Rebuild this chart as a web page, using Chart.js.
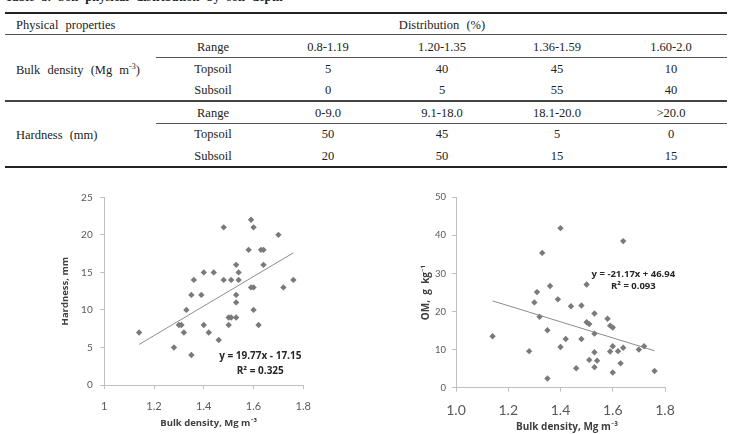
<!DOCTYPE html>
<html><head><meta charset="utf-8">
<script src="https://cdn.jsdelivr.net/npm/chart.js@4.4.0/dist/chart.umd.min.js"></script>
<style>
html,body{margin:0;padding:0;background:#fff;width:732px;height:434px;overflow:hidden;position:relative}
.t{position:absolute;font-family:'Liberation Serif','Times New Roman',serif;font-size:12.5px;color:#222;height:16px;line-height:16px;white-space:nowrap;word-spacing:4px}
.c{transform:translateX(-50%)}
.hl{position:absolute;background:#333;right:5px}
sup{font-size:8px;line-height:0;vertical-align:5px;word-spacing:0}
#w1{position:absolute;left:0;top:180px;width:366px;height:254px}
#w2{position:absolute;left:370px;top:180px;width:362px;height:254px}
</style></head><body>
<div class="t" style="left:5px;top:-11px;font-weight:bold;">Table 3. Soil physical distribution by soil depth</div>
<div class="hl" style="left:5px;top:12px;height:2px;background:#222"></div>
<div class="t" style="left:16px;top:17px">Physical properties</div>
<div class="t c" style="left:442px;top:17px">Distribution (%)</div>
<div class="hl" style="left:5px;top:34px;height:1px;background:#555"></div>

<div class="t c" style="left:213px;top:39px">Range</div>
<div class="t c" style="left:328px;top:39px">0.8-1.19</div>
<div class="t c" style="left:442px;top:39px">1.20-1.35</div>
<div class="t c" style="left:557px;top:39px">1.36-1.59</div>
<div class="t c" style="left:671px;top:39px">1.60-2.0</div>
<div class="hl" style="left:156px;top:57px;height:1px;background:#555"></div>
<div class="t" style="left:16px;top:62px">Bulk density (Mg m<sup>-3</sup>)</div>
<div class="t c" style="left:213px;top:61px">Topsoil</div>
<div class="t c" style="left:328px;top:61px">5</div>
<div class="t c" style="left:442px;top:61px">40</div>
<div class="t c" style="left:557px;top:61px">45</div>
<div class="t c" style="left:671px;top:61px">10</div>
<div class="t c" style="left:213px;top:82px">Subsoil</div>
<div class="t c" style="left:328px;top:82px">0</div>
<div class="t c" style="left:442px;top:82px">5</div>
<div class="t c" style="left:557px;top:82px">55</div>
<div class="t c" style="left:671px;top:82px">40</div>
<div class="hl" style="left:5px;top:100px;height:2px;background:#444"></div>

<div class="t c" style="left:213px;top:105px">Range</div>
<div class="t c" style="left:328px;top:105px">0-9.0</div>
<div class="t c" style="left:442px;top:105px">9.1-18.0</div>
<div class="t c" style="left:557px;top:105px">18.1-20.0</div>
<div class="t c" style="left:671px;top:105px">&gt;20.0</div>
<div class="hl" style="left:156px;top:123px;height:1px;background:#555"></div>
<div class="t" style="left:16px;top:127px">Hardness (mm)</div>
<div class="t c" style="left:213px;top:126px">Topsoil</div>
<div class="t c" style="left:328px;top:126px">50</div>
<div class="t c" style="left:442px;top:126px">45</div>
<div class="t c" style="left:557px;top:126px">5</div>
<div class="t c" style="left:671px;top:126px">0</div>
<div class="t c" style="left:213px;top:148px">Subsoil</div>
<div class="t c" style="left:328px;top:148px">20</div>
<div class="t c" style="left:442px;top:148px">50</div>
<div class="t c" style="left:557px;top:148px">15</div>
<div class="t c" style="left:671px;top:148px">15</div>
<div class="hl" style="left:5px;top:166px;height:2px;background:#222"></div>

<div id="w1"><canvas id="c1" width="366" height="254"></canvas></div>
<div id="w2"><canvas id="c2" width="362" height="254"></canvas></div>
<script>
// Left plot: bulk density vs hardness
const bulkDensityA = [1.14,1.28,1.30,1.31,1.32,1.33,1.35,1.35,1.36,1.39,1.40,1.40,1.42,1.44,1.46,1.48,1.48,1.50,1.50,1.51,1.51,1.53,1.53,1.53,1.53,1.54,1.54,1.58,1.59,1.59,1.60,1.60,1.60,1.62,1.63,1.64,1.64,1.70,1.72,1.76];
const hardness = [7,5,8,8,7,10,12,4,14,12,15,8,7,15,6,21,14,8,9,9,14,16,12,11,9,15,14,18,22,13,13,21,10,8,18,18,16,20,13,14];
const trendAX = [1.14,1.76];
const trendAY = [5.4,17.6];
const eqA = ['y = 19.77x - 17.15','R\u00B2 = 0.325'];

// Right plot: bulk density vs organic matter
const bulkDensityB = [1.14,1.28,1.30,1.31,1.32,1.33,1.35,1.35,1.36,1.39,1.40,1.40,1.42,1.44,1.46,1.48,1.48,1.50,1.50,1.51,1.51,1.53,1.53,1.53,1.53,1.54,1.58,1.59,1.59,1.60,1.60,1.60,1.62,1.63,1.64,1.64,1.70,1.72,1.76];
const organicMatter = [13.5,9.6,22.4,25.1,18.6,35.4,15.1,2.4,26.7,23.2,41.9,10.7,12.8,21.4,5.1,21.6,12.8,27.1,17.2,16.7,7.3,19.5,14.2,9.3,5.4,7.1,18.1,16.3,9.5,15.8,10.9,4.0,9.6,6.4,10.5,38.5,10.0,10.9,4.4];
const trendBX = [1.14,1.76];
const trendBY = [22.8,9.7];
const eqB = ['y = -21.17x + 46.94','R\u00B2 = 0.093'];

const pts = (xs, ys) => xs.map((x, i) => ({x: x, y: ys[i]}));
const BOLD = "'Open Sans', Lato, sans-serif";

const eqPlugin = {
  id: 'eq',
  afterDatasetsDraw(chart, args, o) {
    const ctx = chart.ctx, sx = chart.scales.x, sy = chart.scales.y;
    ctx.save();
    ctx.font = 'bold ' + o.size + 'px ' + BOLD;
    ctx.fillStyle = '#262626';
    ctx.textAlign = 'center';
    ctx.textBaseline = 'middle';
    o.items.forEach(it => ctx.fillText(it.text, sx.getPixelForValue(it.x), sy.getPixelForValue(it.y)));
    ctx.restore();
  }
};

function build(id, c) {
  return new Chart(document.getElementById(id), {
    type: 'scatter',
    data: {
      datasets: [
        {data: pts(c.tx, c.ty), showLine: true, borderColor: '#8c8c8c', borderWidth: 1, pointRadius: 0, order: 2},
        {data: pts(c.xs, c.ys), pointStyle: 'rectRot', pointRadius: 3.2, backgroundColor: '#7a7a7a', borderColor: '#7a7a7a', borderWidth: 0, order: 1}
      ]
    },
    options: {
      responsive: false, animation: false, devicePixelRatio: 1,
      layout: {padding: c.pad},
      plugins: {legend: {display: false}, tooltip: {enabled: false}, eq: {size: c.eqSize, items: c.eqItems}},
      scales: {
        x: {
          type: 'linear', min: 1, max: 1.8,
          afterFit: s => { s.height = c.xh; },
          ticks: {stepSize: 0.2, color: '#595959', padding: c.xpad, font: {family: 'Lato', size: c.xFont}, callback: c.xcb},
          grid: {drawOnChartArea: false, color: '#bfbfbf', tickLength: 4},
          border: {color: '#bfbfbf'},
          title: {display: true, text: c.xTitle, color: '#404040', padding: 0, font: {family: BOLD, size: c.tFont, weight: 'bold'}}
        },
        y: {
          type: 'linear', min: 0, max: c.ymax,
          afterFit: s => { s.width = c.yw; },
          ticks: {stepSize: c.ystep, color: '#595959', padding: c.ypad, font: {family: 'Lato', size: c.yFont}},
          grid: {drawOnChartArea: false, color: '#bfbfbf', tickLength: 4},
          border: {color: '#bfbfbf'},
          title: {display: true, text: c.yTitle, color: '#404040', padding: 0, font: {family: BOLD, size: c.tFont, weight: 'bold'}}
        }
      }
    },
    plugins: [eqPlugin]
  });
}

build('c1', {
  xs: bulkDensityA, ys: hardness, tx: trendAX, ty: trendAY,
  pad: {left: 60, top: 17.3, right: 62.7, bottom: 5.4},
  xh: 43.6, yw: 44.3, xpad: 11, ypad: 7.6, xFont: 11, yFont: 10, tFont: 9.5,
  ymax: 25, ystep: 5, xcb: v => String(Math.round(v * 10) / 10),
  xTitle: '    Bulk density, Mg m\u207B\u00B3', yTitle: 'Hardness, mm',
  eqSize: 10,
  eqItems: [{text: eqA[0], x: 1.627, y: 3.8}, {text: eqA[1], x: 1.627, y: 1.87}]
});

build('c2', {
  xs: bulkDensityB, ys: organicMatter, tx: trendBX, ty: trendBY,
  pad: {left: 50, top: 17.3, right: 67, bottom: 0.7},
  xh: 45.6, yw: 36, xpad: 10, ypad: 6, xFont: 14, yFont: 9.5, tFont: 10,
  ymax: 50, ystep: 10, xcb: v => v.toFixed(1),
  xTitle: '     Bulk density, Mg m\u207B\u00B3', yTitle: 'OM,  g  kg\u207B\u00B9',
  eqSize: 9.5,
  eqItems: [{text: eqB[0], x: 1.679, y: 29.9}, {text: eqB[1], x: 1.679, y: 26.5}]
});
</script>
</body></html>
